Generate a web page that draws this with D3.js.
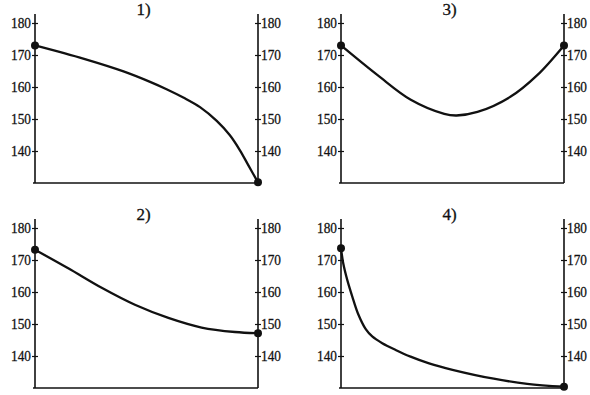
<!DOCTYPE html>
<html>
<head>
<meta charset="utf-8">
<script src="https://cdn.jsdelivr.net/npm/d3@7"></script>
<style>
  body { margin: 0; background: #fff; }
  svg text { font-family: "Liberation Serif", "Times New Roman", serif; fill: #111; }
</style>
</head>
<body>
<script>
// values: x is the fraction of the way across, y the value
var titles = ["1)", "2)", "3)", "4)"];
var tickVals = [140, 150, 160, 170, 180];

var xs1 = [0, 0.22, 0.40, 0.516, 0.59, 0.665, 0.74, 0.815, 0.874, 0.919, 0.957, 1];
var ys1 = [173, 168.8, 164.8, 161.6, 159.3, 156.7, 153.7, 149.4, 144.9, 140.2, 135.5, 130.2];

var xs2 = [0, 0.149, 0.299, 0.448, 0.598, 0.747, 0.897, 1];
var ys2 = [173.2, 167.4, 161.3, 156, 151.9, 148.9, 147.5, 147.1];

var xs3 = [0, 0.164, 0.313, 0.463, 0.518, 0.612, 0.761, 0.88, 1];
var ys3 = [173, 163.7, 156, 151.6, 151.1, 152.2, 157, 163.7, 173];

var xs4 = [0, 0.010, 0.028, 0.051, 0.076, 0.111, 0.140, 0.185, 0.245, 0.312, 0.395, 0.5, 0.685, 0.835, 1];
var ys4 = [173.7, 169, 163.8, 158.5, 153.3, 148.4, 146.1, 144, 141.9, 139.8, 137.7, 135.7, 132.9, 131.3, 130.4];

var width = 590, height = 395;
var svg = d3.select("body").append("svg")
    .attr("width", width)
    .attr("height", height);

// panel origins (top of the left axis line)
var panels = [
    {title: titles[0], xs: xs1, ys: ys1, left: 35, top: 14},
    {title: titles[1], xs: xs2, ys: ys2, left: 35, top: 219},
    {title: titles[2], xs: xs3, ys: ys3, left: 341, top: 14},
    {title: titles[3], xs: xs4, ys: ys4, left: 341, top: 219}
];

var pw = 223, ph = 169;
var x = d3.scaleLinear().domain([0, 1]).range([0, pw]);
var y = d3.scaleLinear().domain([130, 180]).range([ph, 9]);

function styleLabels(sel) {
    sel.attr("font-size", 15)
        .attr("fill", "#111")
        .attr("stroke", "#111")
        .attr("stroke-width", 0.3)
        .attr("textLength", 20)
        .attr("lengthAdjust", "spacingAndGlyphs")
        .attr("font-family", "'Liberation Serif', 'Times New Roman', serif");
}

panels.forEach(function(p) {
    var g = svg.append("g").attr("transform", "translate(" + p.left + "," + p.top + ")");

    // axis lines
    g.append("line").attr("x1", 0).attr("x2", 0).attr("y1", 0).attr("y2", ph)
        .attr("stroke", "#111").attr("stroke-width", 1.6);
    g.append("line").attr("x1", pw).attr("x2", pw).attr("y1", 0).attr("y2", ph)
        .attr("stroke", "#111").attr("stroke-width", 1.6);
    g.append("line").attr("x1", -2).attr("x2", pw).attr("y1", ph).attr("y2", ph)
        .attr("stroke", "#111").attr("stroke-width", 1.6);

    var la = g.append("g")
        .call(d3.axisLeft(y).tickValues(tickVals).tickSizeInner(3).tickSizeOuter(0).tickPadding(1));
    la.select(".domain").remove();
    la.selectAll(".tick line").attr("x1", 3).attr("stroke", "#111").attr("stroke-width", 1.2);
    styleLabels(la.selectAll(".tick text"));

    var ra = g.append("g").attr("transform", "translate(" + pw + ",0)")
        .call(d3.axisRight(y).tickValues(tickVals).tickSizeInner(3).tickSizeOuter(0).tickPadding(0));
    ra.select(".domain").remove();
    ra.selectAll(".tick line").attr("x1", -3).attr("stroke", "#111").attr("stroke-width", 1.2);
    styleLabels(ra.selectAll(".tick text"));

    g.append("text")
        .attr("x", pw / 2 - 3)
        .attr("y", 1)
        .attr("text-anchor", "middle")
        .attr("font-size", 17)
        .attr("stroke", "#111")
        .attr("stroke-width", 0.3)
        .text(p.title);

    var pts = p.xs.map(function(d, i) { return [d, p.ys[i]]; });
    var line = d3.line()
        .x(function(d) { return x(d[0]); })
        .y(function(d) { return y(d[1]); })
        .curve(d3.curveCatmullRom.alpha(0.5));

    g.append("path")
        .datum(pts)
        .attr("d", line)
        .attr("fill", "none")
        .attr("stroke", "#111")
        .attr("stroke-width", 2.3);

    g.selectAll("circle")
        .data([pts[0], pts[pts.length - 1]])
        .enter()
        .append("circle")
        .attr("cx", function(d) { return x(d[0]); })
        .attr("cy", function(d) { return y(d[1]); })
        .attr("r", 4)
        .attr("fill", "#111");
});
</script>
</body>
</html>
